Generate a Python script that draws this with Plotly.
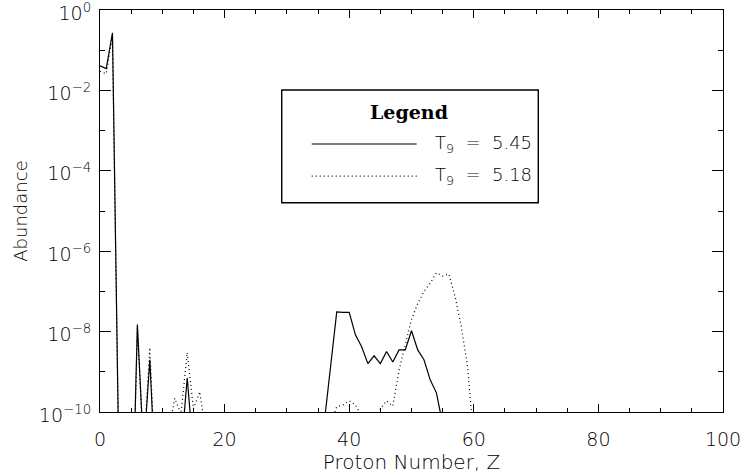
import plotly.graph_objects as go

# ---------------- data ----------------
# Proton number Z (integer grid)
Z = list(range(0, 63))
T = 1e-20  # effectively zero abundance (below the plotted range)

# Abundance at T9 = 5.45 (solid)
abund_545 = [
    4.1e-2, 3.5e-2, 2.7e-1, 1e-11, T, 1e-14, 1.5e-8, 1e-11, 2.0e-9, 1e-12,   # 0-9
    T, T, T, 1e-11, 7e-10, 1e-11, T, T, T, T,                                # 10-19
    T, T, T, T, T, T, T, T, T, T,                                            # 20-29
    T, T, T, T, T, T, 5.5e-11, 1.3e-9, 3.1e-8, 3.0e-8,                       # 30-39
    3.0e-8, 8.3e-9, 4.2e-9, 1.6e-9, 2.5e-9, 1.6e-9, 3.2e-9, 1.75e-9, 3.5e-9, 3.5e-9,  # 40-49
    1.05e-8, 3.5e-9, 2.0e-9, 6.3e-10, 3.0e-10, 5e-11, T, T, T, T,            # 50-59
    T, T, T,                                                                 # 60-62
]

# Abundance at T9 = 5.18 (dotted)
abund_518 = [
    3.0e-2, 2.6e-2, 2.3e-1, 1e-11, T, 1e-14, 1.2e-8, 1e-11, 4.0e-9, 1e-12,   # 0-9
    T, 3e-11, 2.2e-10, 9e-11, 3.0e-9, 1.2e-10, 3.2e-10, 3e-11, T, T,         # 10-19
    T, T, T, T, T, T, T, T, T, T,                                            # 20-29
    T, T, T, T, T, T, 1e-12, 5e-11, 1.35e-10, 1.5e-10,                       # 30-39
    1.9e-10, 1.5e-10, 8e-11, 1e-12, 3e-11, 1.2e-10, 1.9e-10, 1.4e-10, 1.1e-9, 4.7e-9,  # 40-49
    2.0e-8, 5.0e-8, 1.0e-7, 1.6e-7, 2.9e-7, 2.4e-7, 2.7e-7, 7.4e-8, 1.3e-8, 1.35e-9,  # 50-59
    2e-11, T, T,                                                             # 60-62
]

series_names = ["T<sub>9</sub>  =  5.45", "T<sub>9</sub>  =  5.18"]

x_ticks = [0, 20, 40, 60, 80, 100]
y_tick_vals = [1e-10, 1e-8, 1e-6, 1e-4, 1e-2, 1e0]
y_tick_text = ["10<sup>−10</sup>", "10<sup>−8</sup>", "10<sup>−6</sup>",
               "10<sup>−4</sup>", "10<sup>−2</sup>", "10<sup>0</sup>"]
y_minor_vals = [1e-9, 1e-7, 1e-5, 1e-3, 1e-1]

# ---------------- figure ----------------
FONT = "DejaVu Sans"
WEIGHT = 300
fig = go.Figure()
fig.add_trace(go.Scatter(x=Z, y=abund_545, mode="lines", name=series_names[0],
                         line=dict(color="black", width=1.2), showlegend=False))
fig.add_trace(go.Scatter(x=Z, y=abund_518, mode="lines", name=series_names[1],
                         line=dict(color="black", width=1.2, dash="1px,3px"), showlegend=False))

fig.update_layout(
    width=743, height=474,
    margin=dict(l=100, r=20, t=10, b=62),
    paper_bgcolor="white", plot_bgcolor="white",
    font=dict(family=FONT, size=19, color="black", weight=WEIGHT),
    showlegend=False,
)
fig.update_xaxes(
    range=[0, 100], tickvals=x_ticks, ticktext=[str(v) for v in x_ticks],
    ticks="inside", ticklen=8, tickwidth=1, tickcolor="black",
    minor=dict(dtick=5, tick0=0, ticks="inside", ticklen=4, tickcolor="black"),
    showline=True, linecolor="black", linewidth=1.2, mirror="ticks",
    showgrid=False, zeroline=False, ticklabelstandoff=10, automargin=False,
    tickfont=dict(family=FONT, size=19, weight=WEIGHT),
    title=dict(text="Proton Number, Z", font=dict(family=FONT, size=20, weight=WEIGHT), standoff=4),
)
fig.update_yaxes(
    type="log", range=[-10, 0], tickvals=y_tick_vals, ticktext=y_tick_text,
    ticks="inside", ticklen=11, tickwidth=1, tickcolor="black",
    minor=dict(tickvals=y_minor_vals, ticks="inside", ticklen=5, tickcolor="black"),
    showline=True, linecolor="black", linewidth=1.2, mirror="ticks",
    showgrid=False, zeroline=False, ticklabelstandoff=4, ticklabeloverflow="allow",
    ticklabelshift=3, automargin=False,
    tickfont=dict(family=FONT, size=19, weight=WEIGHT),
    title=dict(text="Abundance", font=dict(family=FONT, size=18, weight=WEIGHT), standoff=6),
)

# ---------------- hand-drawn legend box ----------------
fig.add_shape(type="rect", xref="paper", yref="paper",
              x0=0.2917, x1=0.7035, y0=0.5206, y1=0.801,
              line=dict(color="black", width=1.4), fillcolor="white", layer="above")
fig.add_annotation(xref="paper", yref="paper", x=0.4952, y=0.747,
                   xanchor="center", yanchor="middle",
                   text="<b>Legend</b>", showarrow=False,
                   font=dict(family="DejaVu Serif", size=19, color="black"))
leg_y = [0.6667, 0.587]
leg_dash = ["solid", "1px,3px"]
for yy, dd, nm in zip(leg_y, leg_dash, series_names):
    fig.add_shape(type="line", xref="paper", yref="paper",
                  x0=0.3398, x1=0.5083, y0=yy, y1=yy,
                  line=dict(color="black", width=1.2, dash=dd), layer="above")
    fig.add_annotation(xref="paper", yref="paper", x=0.5345, y=yy,
                       xanchor="left", yanchor="middle", text=nm, showarrow=False,
                       font=dict(family=FONT, size=18, color="black", weight=WEIGHT))

fig.write_html("out.html")
